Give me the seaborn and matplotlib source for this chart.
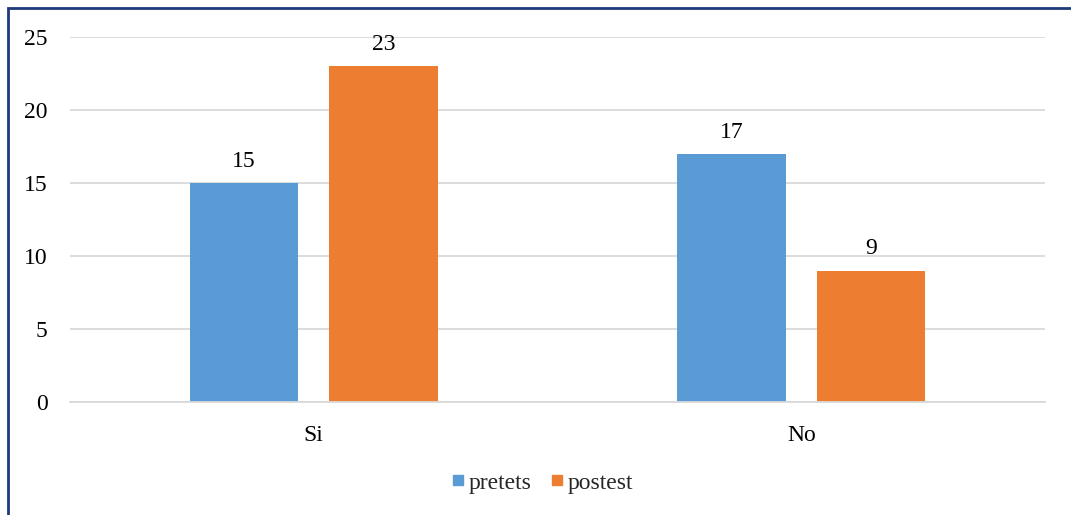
import matplotlib
matplotlib.use("Agg")
import matplotlib.pyplot as plt
import seaborn as sns
import pandas as pd
from matplotlib.patches import Rectangle
from matplotlib.lines import Line2D

categories = ["Si", "No"]
series_names = ["pretets", "postest"]
pretets = [15, 17]
postest = [23, 9]
y_ticks = [0, 5, 10, 15, 20, 25]

colors = ["#5B9BD5", "#ED7D31"]

df = pd.DataFrame({
    "cat": categories * 2,
    "serie": [series_names[0]] * 2 + [series_names[1]] * 2,
    "val": pretets + postest,
})

sns.set_theme(style="white")
plt.rcParams["font.family"] = ["Liberation Serif", "DejaVu Serif"]

FS = 17

fig = plt.figure(figsize=(10.71, 5.15), dpi=100)
ax = fig.add_axes([70 / 1071, 1 - 402 / 515, 975 / 1071, 365 / 515])

sns.barplot(data=df, x="cat", y="val", hue="serie", order=categories,
            hue_order=series_names, palette=colors, width=0.572, gap=0.224,
            saturation=1, ax=ax, legend=False, edgecolor="none")

ax.set_xlim(-0.5, 1.5)
ax.set_ylim(0, 25)
ax.set_yticks(y_ticks)
ax.set_xlabel("")
ax.set_ylabel("")
ax.yaxis.grid(True, color="#D9D9D9", linewidth=1.3)
ax.set_axisbelow(True)
for s in ["top", "right", "left"]:
    ax.spines[s].set_visible(False)
ax.spines["bottom"].set_color("#D9D9D9")
ax.spines["bottom"].set_linewidth(1.3)
ax.tick_params(axis="both", length=0, labelsize=FS, colors="black")
ax.tick_params(axis="y", pad=16)
ax.tick_params(axis="x", pad=16.5)

for cont in ax.containers:
    ax.bar_label(cont, fmt="%d", padding=8, fontsize=FS, color="black")

handles = [Line2D([0], [0], marker="s", linestyle="", markersize=7.5,
                  markerfacecolor=c, markeredgecolor=c) for c in colors]
fig.legend(handles, series_names, loc="center", bbox_to_anchor=(542 / 1071, 1 - 483 / 515),
           ncol=2, frameon=False, fontsize=FS, handlelength=0.6, handletextpad=0.15,
           columnspacing=0.8)

fig.patches.append(Rectangle((8 / 1071, -0.1), 1.2, 1 - 8 / 515 + 0.1,
                             transform=fig.transFigure, fill=False,
                             edgecolor="#1F3A7A", linewidth=2, zorder=10))

fig.savefig("out.png", dpi=100)
